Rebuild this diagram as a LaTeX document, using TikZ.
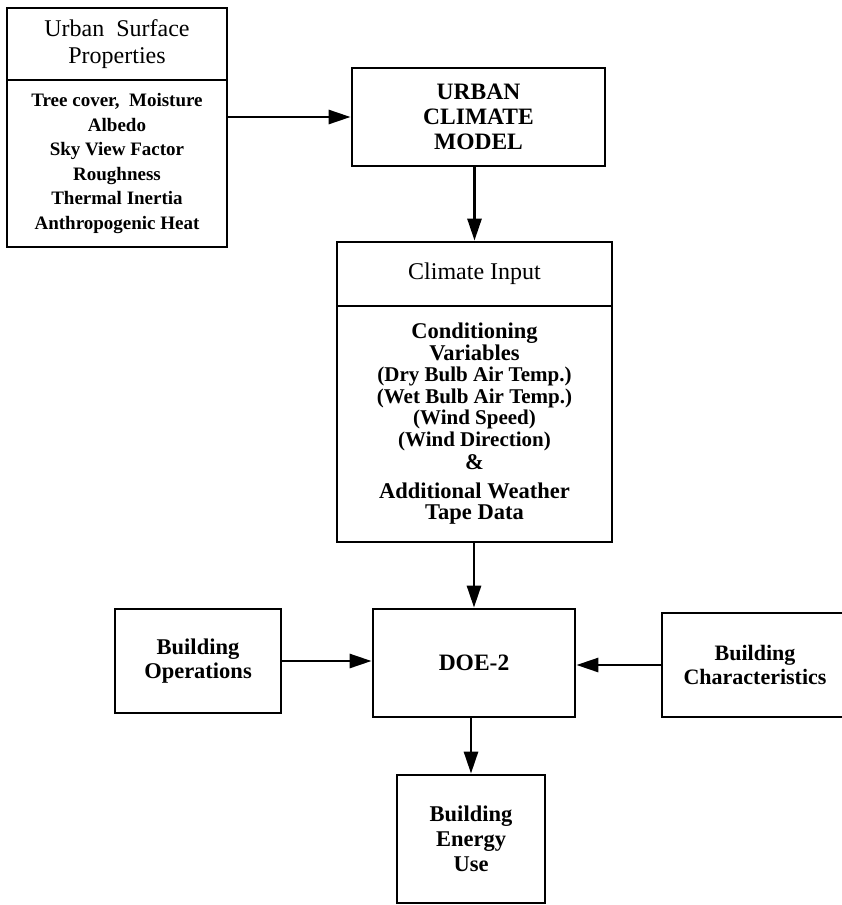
\documentclass[tikz,border=0pt]{standalone}
\usepackage{fontspec}
\setmainfont{Liberation Serif}
\usetikzlibrary{arrows.meta}

\begin{document}
\begin{tikzpicture}[x=1pt,y=-1pt,
  box/.style={draw,line width=2.8pt,inner sep=0pt,align=center,
    font=\fontsize{22.5}{24.5}\selectfont\bfseries},
  headbox/.style={box,font=\fontsize{24}{27}\selectfont},
  listbox/.style={box,font=\fontsize{19}{24.5}\selectfont\bfseries},
  arr/.style={line width=2.8pt,-{Triangle[length=22pt,width=14pt]}}]
\useasboundingbox (0,0) rectangle (842,905);
% upper part
\node[headbox,minimum width=220pt,minimum height=72pt] (usp) at (117,44) {Urban\ \ Surface\\Properties};
\node[listbox,minimum width=220pt,minimum height=167pt] (uspbody) at (117,163.5)
  {Tree cover,\ \ Moisture\\Albedo\\Sky View Factor\\Roughness\\Thermal Inertia\\Anthropogenic Heat};
\node[box,minimum width=253pt,minimum height=98pt,font=\fontsize{23.5}{25}\selectfont\bfseries] (ucm) at (478.5,117)
  {URBAN\\CLIMATE\\MODEL};
% climate input
\node[headbox,minimum width=275pt,minimum height=64pt] (ci) at (474.5,274) {Climate Input};
\node[box,minimum width=275pt,minimum height=236pt,font=\fontsize{21}{21.5}\selectfont\bfseries] (cibody) at (474.5,424)
  {{\fontsize{22.5}{23}\selectfont Conditioning}\\{\fontsize{22.5}{23}\selectfont Variables}\\(Dry Bulb Air Temp.)\\(Wet Bulb Air Temp.)\\(Wind Speed)\\(Wind Direction)\\[2pt]{\fontsize{22.5}{23}\selectfont\&}\\[7pt]{\fontsize{22.5}{23}\selectfont Additional Weather}\\{\fontsize{22.5}{23}\selectfont Tape Data}};
% lower part
\node[box,minimum width=202pt,minimum height=108pt,font=\fontsize{23.5}{25}\selectfont\bfseries] (doe) at (474,663) {DOE-2};
\node[box,minimum width=166pt,minimum height=104pt] (bo) at (198,661) {Building\\Operations};
\node[box,minimum width=186pt,minimum height=104pt,font=\fontsize{22}{24.5}\selectfont\bfseries] (bc) at (755,665) {Building\\Characteristics};
\node[box,minimum width=148pt,minimum height=128pt,font=\fontsize{22.5}{25}\selectfont\bfseries] (beu) at (471,839) {Building\\Energy\\Use};
% arrows
\path[draw,arr] (uspbody.east |- ucm.west) -- (ucm.west);
\path[draw,arr] (ci.north |- ucm.south) -- (ci.north);
\path[draw,arr] (doe.north |- cibody.south) -- (doe.north);
\path[draw,arr] (bo.east) -- (bo.east -| doe.west);
\path[draw,arr] (bc.west) -- (bc.west -| doe.east);
\path[draw,arr] (beu.north |- doe.south) -- (beu.north);
\end{tikzpicture}
\end{document}
